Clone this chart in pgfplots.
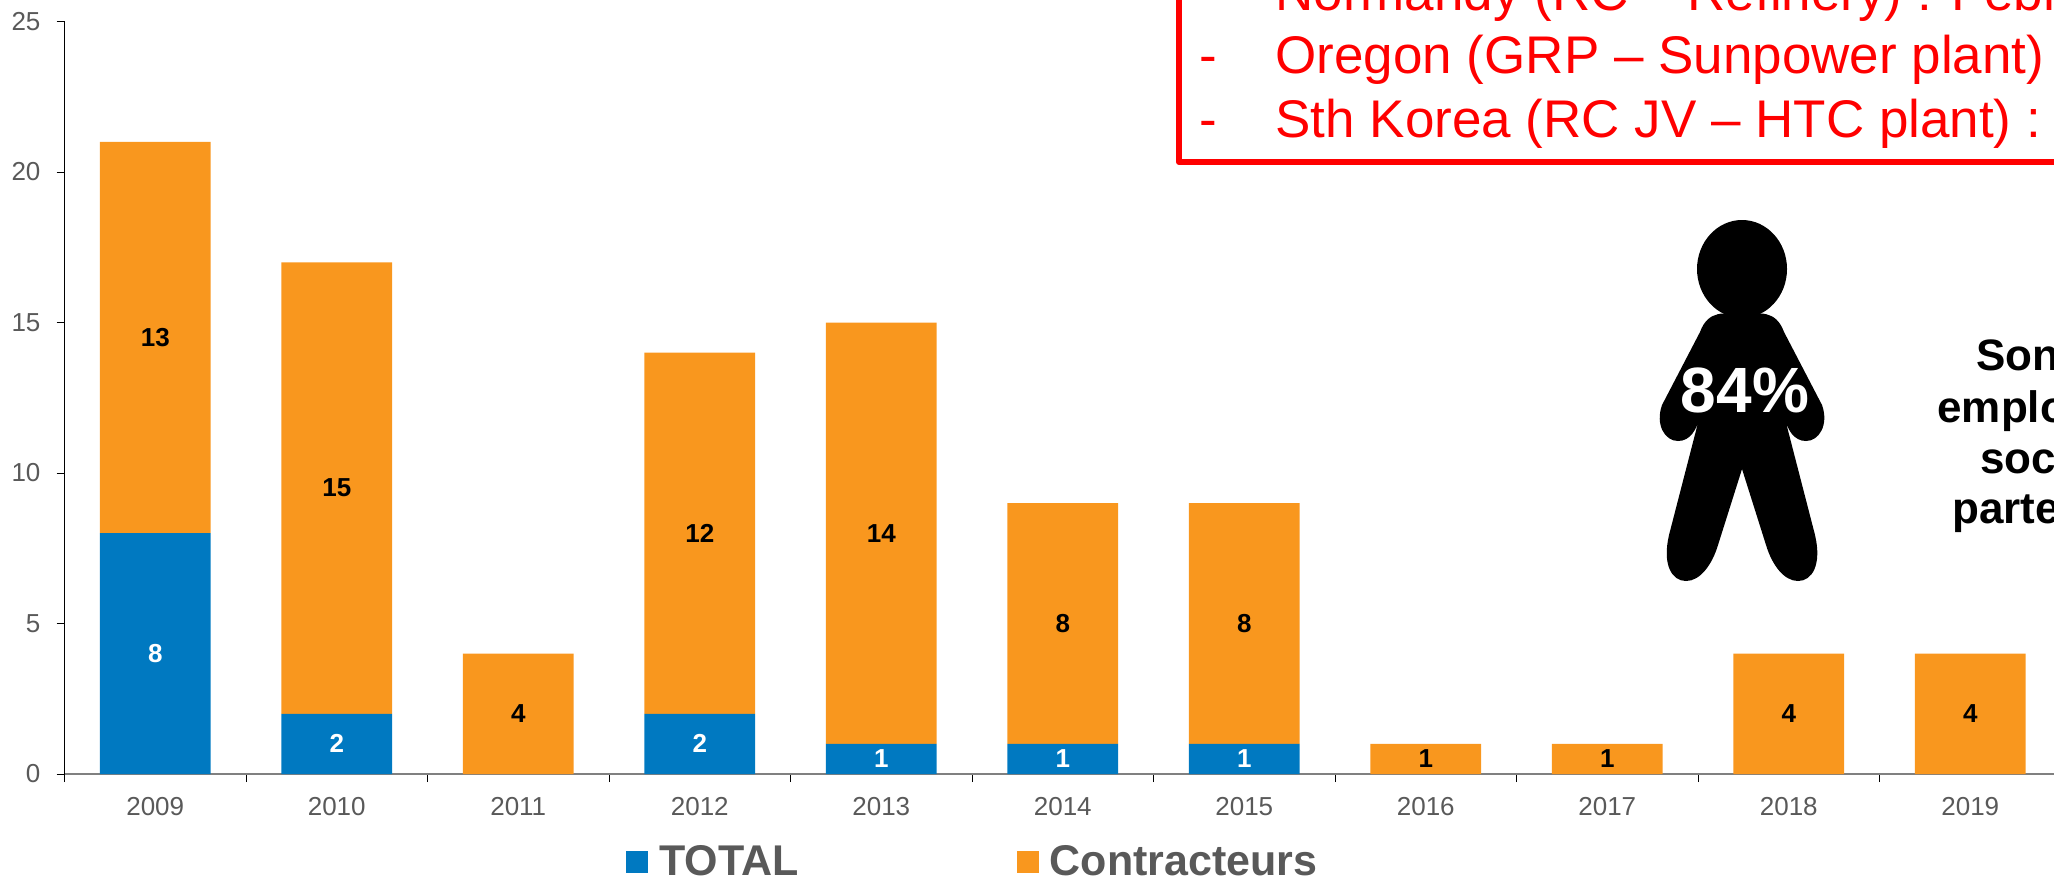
\documentclass[border=0pt]{standalone}
\usepackage{pgfplots}
\usepackage{fontspec}
\setmainfont{Liberation Sans}
\pgfplotsset{compat=1.18}
\definecolor{cblue}{HTML}{0079C1}
\definecolor{corange}{HTML}{F9971E}
\definecolor{tgray}{HTML}{595959}
\definecolor{agray}{HTML}{808080}
\newcommand{\fs}[1]{\fontsize{#1}{#1}\selectfont}
\pgfplotstableread{
x total contract
0 8 13
1 2 15
2 0 4
3 2 12
4 1 14
5 1 8
6 1 8
7 0 1
8 0 1
9 0 4
10 0 4
}\bars
\pgfplotstableread{
x y label
0 4 8
1 1 2
3 1 2
4 0.5 1
5 0.5 1
6 0.5 1
}\labelsblue
\pgfplotstableread{
x y label
0 14.5 13
1 9.5 15
2 2 4
3 8 12
4 8 14
5 5 8
6 5 8
7 0.5 1
8 0.5 1
9 2 4
10 2 4
}\labelsorange
\begin{document}
\begin{tikzpicture}[x=0.5pt,y=-0.5pt]
\useasboundingbox (0,0) rectangle (2054,879);
\clip (0,0) rectangle (2054,879);
\begin{axis}[
  at={(32.25pt,-387pt)}, anchor=south west,
  scale only axis, width=998.25pt, height=376.25pt,
  xmin=-0.5, xmax=10.5, ymin=0, ymax=25,
  ybar stacked, bar width=0.61,
  axis x line*=bottom, axis y line*=left,
  x axis line style={agray,line width=1pt,-},
  y axis line style={black,line width=0.5pt,-},
  xtick={-0.5,0.5,...,10.5}, xticklabels={},
  extra x ticks={0,...,10},
  extra x tick labels={2009,2010,2011,2012,2013,2014,2015,2016,2017,2018,2019},
  extra x tick style={major tick length=0pt, tick label style={yshift=-8pt}},
  ytick={0,5,...,25},
  tick align=outside, major tick length=4pt,
  tick style={black,line width=0.5pt},
  tick label style={font=\fs{13}, text=tgray},
  yticklabel style={xshift=-4.5pt},
  /pgf/number format/assume math mode=true,
  legend columns=2,
  legend style={draw=none, fill=none, at={(0.2812,-0.1175)}, anchor=west,
    font=\fs{21.5}\bfseries, text=tgray, inner sep=0pt, outer sep=0pt,
    /tikz/every even column/.style={column sep=0pt}},
  legend image code/.code={\fill[#1] (0pt,-5.5pt) rectangle (11pt,5.5pt);},
  clip=false,
]
\addplot[fill=cblue,draw=none] table[x=x,y=total]{\bars};
\addplot[fill=corange,draw=none] table[x=x,y=contract]{\bars};
\legend{\makebox[180.3pt][l]{\,TOTAL},\,Contracteurs}
\end{axis}
\begin{axis}[
  at={(32.25pt,-387pt)}, anchor=south west,
  scale only axis, width=998.25pt, height=376.25pt,
  xmin=-0.5, xmax=10.5, ymin=0, ymax=25,
  hide axis, clip=false,
]
\addplot[only marks, mark=none, point meta=explicit symbolic,
  nodes near coords, nodes near coords align={anchor=center},
  every node near coord/.append style={font=\fs{13}\bfseries, text=white, anchor=center, inner sep=0pt}]
  table[x=x,y=y,meta=label]{\labelsblue};
\addplot[only marks, mark=none, point meta=explicit symbolic,
  nodes near coords, nodes near coords align={anchor=center},
  every node near coord/.append style={font=\fs{13}\bfseries, text=black, anchor=center, inner sep=0pt}]
  table[x=x,y=y,meta=label]{\labelsorange};
\end{axis}
% red box
\draw[red, line width=3pt, line join=round] (1179,-20) rectangle (2200,162);
\foreach \yy/\txt in {10/{Normandy (RC – Refinery) : Febr},73/{Oregon (GRP – Sunpower plant) :},137/{Sth Korea (RC JV – HTC plant) :}}{
  \node[anchor=base west, inner sep=0pt, text=red, font=\fs{26.5}] at (1275,\yy) {\txt};
}
\node[anchor=base west, inner sep=0pt, text=red, font=\fs{26.5}] at (1199,73) {-};
\node[anchor=base west, inner sep=0pt, text=red, font=\fs{26.5}] at (1199,137) {-};
% person
\fill[black] (1742,269) ellipse [x radius=45, y radius=49];
\fill[black] (1742,316) .. controls (1725,312) and (1708,310) .. (1700,332)
  -- (1662,405) .. controls (1655,425) and (1665,441) .. (1678,441)
  .. controls (1690,441) and (1697,430) .. (1700,415)
  -- (1669,535) .. controls (1662,565) and (1672,581) .. (1686,581)
  .. controls (1700,581) and (1712,565) .. (1718,545)
  -- (1742,469) -- (1766,545)
  .. controls (1772,565) and (1784,581) .. (1798,581)
  .. controls (1812,581) and (1822,565) .. (1815,535)
  -- (1784,415) .. controls (1787,430) and (1794,441) .. (1806,441)
  .. controls (1819,441) and (1829,425) .. (1822,405)
  -- (1784,332) .. controls (1776,310) and (1759,312) .. (1742,316) -- cycle;
\node[text=white, font=\fs{32}\bfseries, inner sep=0pt] at (1745,390) {84\%};
% right side text
\foreach \xx/\yy/\txt in {1976/370/Sont,1937/422/employés,1980/473/sociétés,1952/523/partenaires}{
  \node[anchor=base west, inner sep=0pt, font=\fs{22}\bfseries] at (\xx,\yy) {\txt};
}
\end{tikzpicture}
\end{document}
